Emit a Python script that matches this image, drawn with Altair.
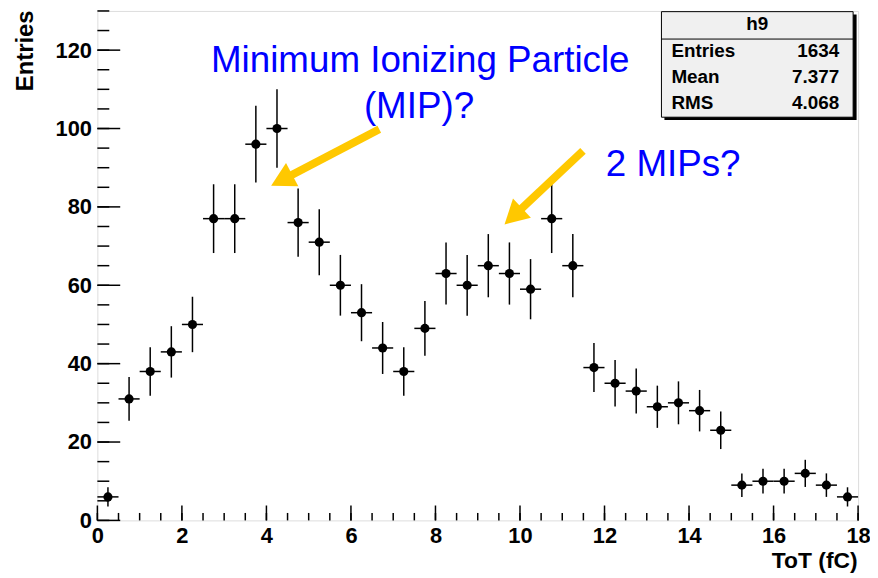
import altair as alt
import numpy as np
import pandas as pd

# ---- data (h9) ----
bin_centers = [0.25, 0.75, 1.25, 1.75, 2.25, 2.75, 3.25, 3.75, 4.25, 4.75, 5.25, 5.75,
               6.25, 6.75, 7.25, 7.75, 8.25, 8.75, 9.25, 9.75, 10.25, 10.75, 11.25, 11.75,
               12.25, 12.75, 13.25, 13.75, 14.25, 14.75, 15.25, 15.75, 16.25, 16.75, 17.25, 17.75]
counts = [6, 31, 38, 43, 50, 77, 77, 96, 100, 76, 71, 60,
          53, 44, 38, 49, 63, 60, 65, 63, 59, 77, 65, 39,
          35, 33, 29, 30, 28, 23, 9, 10, 10, 12, 9, 6]
bin_half_width = 0.25

x_major_ticks = [0, 2, 4, 6, 8, 10, 12, 14, 16, 18]
x_minor_ticks = [0.5 * i for i in range(37)]
y_major_ticks = [0, 20, 40, 60, 80, 100, 120]
y_minor_ticks = [5 * i for i in range(27)]

stats_title = "h9"
stats_labels = ["Entries", "Mean", "RMS"]
stats_values = ["1634", "7.377", "4.068"]

# ---- frames ----
df = pd.DataFrame({"x": bin_centers, "n": counts})
df["err"] = np.sqrt(df["n"])
df["lo"] = df["n"] - df["err"]
df["hi"] = df["n"] + df["err"]
df["xlo"] = df["x"] - bin_half_width
df["xhi"] = df["x"] + bin_half_width

W, H = 766, 513
FONT = "Liberation Sans"
GOLD = "#FFC800"
BLUE = "#0000FF"

xs = alt.Scale(domain=[0, 18], nice=False, zero=False)
ys = alt.Scale(domain=[0, 130], nice=False, zero=False)

xaxis = alt.Axis(values=x_major_ticks, ticks=False, domain=False, grid=False,
                 labelFont=FONT, labelFontSize=22, labelFontWeight="bold", labelColor="black",
                 labelPadding=5, labelFlush=False, labelOverlap=False,
                 title="ToT (fC)", titleFont=FONT, titleFontSize=23, titleFontWeight="bold",
                 titleColor="black", titleAlign="right", titleBaseline="alphabetic",
                 titleX=765, titleY=47, titleAngle=0)
yaxis = alt.Axis(values=y_major_ticks, ticks=False, domain=False, grid=False,
                 labelFont=FONT, labelFontSize=22, labelFontWeight="bold", labelColor="black",
                 labelPadding=6, labelFlush=False, labelOverlap=False,
                 title="Entries", titleFont=FONT, titleFontSize=24, titleFontWeight="bold",
                 titleColor="black", titleAngle=270, titleAlign="right",
                 titleBaseline="alphabetic", titleX=-65, titleY=-1)

base = alt.Chart(df)

vbars = base.mark_rule(color="black", strokeWidth=1.5).encode(
    x=alt.X("x:Q", scale=xs, axis=xaxis),
    y=alt.Y("lo:Q", scale=ys, axis=yaxis),
    y2="hi:Q",
)
hbars = base.mark_rule(color="black", strokeWidth=1.5).encode(
    x=alt.X("xlo:Q", scale=xs), x2="xhi:Q", y=alt.Y("n:Q", scale=ys)
)
points = base.mark_circle(color="black", size=85, opacity=1).encode(
    x=alt.X("x:Q", scale=xs), y=alt.Y("n:Q", scale=ys)
)

# ---- inward ROOT-style ticks ----
xmaj = alt.Chart(pd.DataFrame({"v": x_major_ticks})).mark_rule(color="black", strokeWidth=1.5).encode(
    x=alt.X("v:Q", scale=xs), y=alt.value(H), y2=alt.value(H - 15))
xmin = alt.Chart(pd.DataFrame({"v": x_minor_ticks})).mark_rule(color="black", strokeWidth=1.5).encode(
    x=alt.X("v:Q", scale=xs), y=alt.value(H), y2=alt.value(H - 7.5))
ymaj = alt.Chart(pd.DataFrame({"v": y_major_ticks})).mark_rule(color="black", strokeWidth=1.5).encode(
    y=alt.Y("v:Q", scale=ys), x=alt.value(0), x2=alt.value(23))
ymin = alt.Chart(pd.DataFrame({"v": y_minor_ticks})).mark_rule(color="black", strokeWidth=1.5).encode(
    y=alt.Y("v:Q", scale=ys), x=alt.value(0), x2=alt.value(12))

# ---- annotations ----
one = alt.Chart(pd.DataFrame({"a": [0]}))

txt1 = one.mark_text(text="Minimum Ionizing Particle", font=FONT, fontSize=37, color=BLUE,
                     align="center", baseline="alphabetic").encode(
    x=alt.datum(7.64, scale=xs), y=alt.datum(114.5, scale=ys))
txt2 = one.mark_text(text="(MIP)?", font=FONT, fontSize=37, color=BLUE,
                     align="center", baseline="alphabetic").encode(
    x=alt.datum(7.61, scale=xs), y=alt.datum(102.8, scale=ys))
txt3 = one.mark_text(text="2 MIPs?", font=FONT, fontSize=37, color=BLUE,
                     align="left", baseline="alphabetic").encode(
    x=alt.datum(12.03, scale=xs), y=alt.datum(87.9, scale=ys))

HEAD = "M1,0L-1,-1.1L-1,1.1Z"
shaft1 = one.mark_rule(color=GOLD, strokeWidth=8).encode(
    x=alt.datum(6.67, scale=xs), x2=alt.datum(4.36), y=alt.datum(99.8, scale=ys), y2=alt.datum(86.8))
head1 = one.mark_point(shape=HEAD, filled=True, color=GOLD, opacity=1, size=576, angle=152).encode(
    x=alt.datum(4.36, scale=xs), y=alt.datum(86.8, scale=ys))
shaft2 = one.mark_rule(color=GOLD, strokeWidth=8).encode(
    x=alt.datum(11.49, scale=xs), x2=alt.datum(9.84), y=alt.datum(94.3, scale=ys), y2=alt.datum(77.6))
head2 = one.mark_point(shape=HEAD, filled=True, color=GOLD, opacity=1, size=576, angle=137).encode(
    x=alt.datum(9.84, scale=xs), y=alt.datum(77.6, scale=ys))

# ---- stats box (pixel layout inside plot area) ----
shadow = one.mark_rect(color="black").encode(
    x=alt.value(571), x2=alt.value(764.5), y=alt.value(3.5), y2=alt.value(109.7))
box = one.mark_rect(fill="#F0F0F0", stroke="black", strokeWidth=1).encode(
    x=alt.value(568), x2=alt.value(761), y=alt.value(0.7), y2=alt.value(107))
sep = one.mark_rule(color="black", strokeWidth=1).encode(
    x=alt.value(568), x2=alt.value(761), y=alt.value(28.3))
sbox_title = one.mark_text(text=stats_title, font=FONT, fontSize=19, fontWeight="bold",
                           color="black", align="center", baseline="alphabetic").encode(
    x=alt.value(664.5), y=alt.value(19.3))
sdf = pd.DataFrame({"lab": stats_labels, "val": stats_values, "row": [0, 1, 2]})
srow = alt.Scale(domain=[0, 2], range=[46, 99])
slabels = alt.Chart(sdf).mark_text(font=FONT, fontSize=19, fontWeight="bold", color="black",
                                   align="left", baseline="alphabetic").encode(
    x=alt.value(578), y=alt.Y("row:Q", scale=srow, axis=None), text="lab:N")
svalues = alt.Chart(sdf).mark_text(font=FONT, fontSize=19, fontWeight="bold", color="black",
                                   align="right", baseline="alphabetic").encode(
    x=alt.value(747), y=alt.Y("row:Q", scale=srow, axis=None), text="val:N")
stats = alt.layer(shadow, box, sep, sbox_title, slabels, svalues).resolve_scale(y="independent")

chart = alt.layer(
    vbars, hbars, points, xmaj, xmin, ymaj, ymin,
    shaft1, head1, shaft2, head2, txt1, txt2, txt3,
).properties(width=W, height=H)

chart = alt.layer(chart, stats).resolve_scale(y="independent").properties(
    width=W, height=H,
    padding={"left": 90, "top": 1, "right": 12, "bottom": 52},
    autosize=alt.AutoSizeParams(type="none"),
).configure_view(stroke="black", strokeWidth=1.5).configure(background="white")

chart.save("out.html", embed_options={"renderer": "svg", "actions": False})
